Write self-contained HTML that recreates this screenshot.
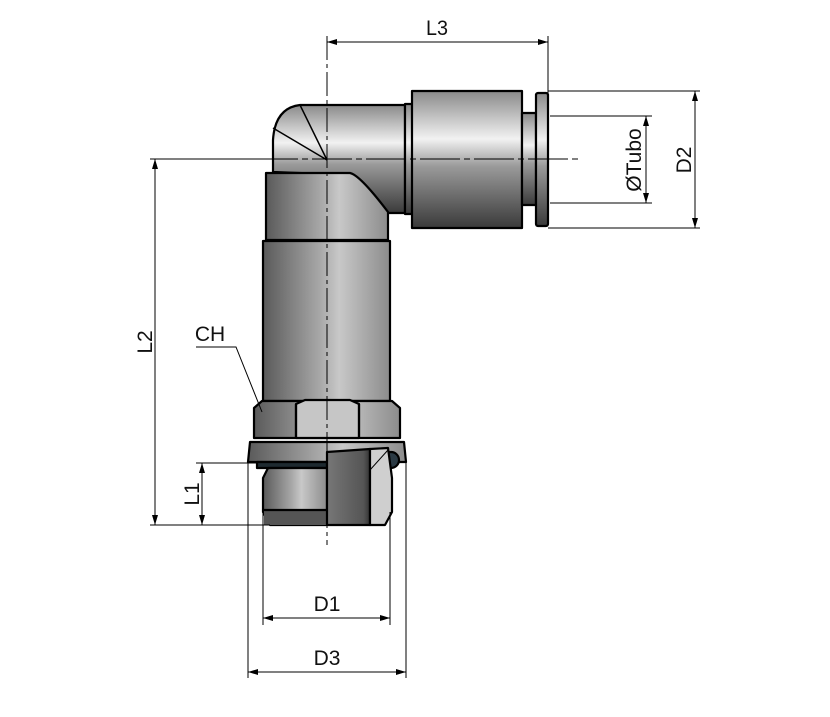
<!DOCTYPE html>
<html><head><meta charset="utf-8"><style>html,body{margin:0;padding:0;background:#fff}svg{display:block}text{font-family:"Liberation Sans Narrow","Liberation Sans",sans-serif;fill:#111}</style></head>
<body>
<svg width="830" height="717" viewBox="0 0 830 717" xmlns="http://www.w3.org/2000/svg">
<defs>
<linearGradient id="v" x1="0" y1="0" x2="1" y2="0">
<stop offset="0" stop-color="#5a5a5a"/><stop offset="0.45" stop-color="#a8a8a8"/><stop offset="0.6" stop-color="#c8c8c8"/><stop offset="1" stop-color="#8c8c8c"/></linearGradient>
<linearGradient id="h" x1="0" y1="0" x2="0" y2="1">
<stop offset="0" stop-color="#8a8a8a"/><stop offset="0.35" stop-color="#f2f2f2"/><stop offset="0.55" stop-color="#9a9a9a"/><stop offset="1" stop-color="#3a3a3a"/></linearGradient>
<linearGradient id="d" x1="0" y1="0" x2="1" y2="0">
<stop offset="0" stop-color="#777"/><stop offset="0.85" stop-color="#555"/><stop offset="1" stop-color="#333"/></linearGradient>
<marker id="a" viewBox="0 0 10 6" refX="10" refY="3" markerWidth="10" markerHeight="6" orient="auto-start-reverse" markerUnits="userSpaceOnUse"><path d="M0,0L10,3L0,6z" fill="#000"/></marker>
</defs>
<g stroke="#000" stroke-width="2.2" stroke-linejoin="round">
<path d="M300,105 L405,105 L405,213 L388,213 L350,175 L273,172 L273,140 Q275,108 300,105z" fill="url(#h)"/>
<path d="M300,105 L327,160 M273,128 L327,160" fill="none" stroke-width="1.5"/>
<rect x="405" y="104" width="8" height="110" fill="url(#h)"/>
<rect x="412" y="91" width="110" height="137" fill="url(#h)"/>
<rect x="522" y="113" width="14" height="92" fill="url(#h)"/>
<rect x="536" y="93" width="12" height="133" rx="2" fill="url(#h)"/>
<path d="M266,173 L350,173 Q360,175 388,212 L388,240 L266,240z" fill="url(#v)"/>
<rect x="263" y="241" width="127" height="160" fill="url(#v)"/>
<!-- hex -->
<path d="M254,408 L262,401 L392,401 L400,408 L400,438 L254,438z" fill="url(#v)"/>
<path d="M296,404 L305,400 L350,400 L359,404 L359,438 L296,438z" fill="#c6c6c6"/>
<path d="M296,404 L296,438 M359,404 L359,438" fill="none"/>
<!-- flange -->
<path d="M250,442 L404,442 L406,462 L248,462z" fill="url(#v)"/>
<rect x="257" y="462" width="70" height="6" fill="#1e2a30"/>
<circle cx="391" cy="460" r="8" fill="#2b3a44"/>
<!-- thread -->
<path d="M268,468 L327,468 L327,525 L270,525 L263,512 L263,478z" fill="url(#v)"/>
<rect x="264" y="510" width="63" height="15" fill="#555" stroke="none"/>
<line x1="264" y1="510" x2="327" y2="510"/>
<path d="M327,452 L370,449 L370,525 L327,525z" fill="url(#d)"/>
<path d="M370,449 L388,448 L392,478 L392,512 L385,525 L370,525z" fill="#cfcfcf"/>
<path d="M370,470 L388,450" fill="none" stroke-width="1"/>
</g>
<g stroke="#000" stroke-width="1" fill="none">
<line x1="327" y1="36" x2="327" y2="545" stroke-dasharray="24,4,4,4"/>
<line x1="150" y1="159" x2="578" y2="159" stroke-dasharray="40,4,6,4"/>
<line x1="327" y1="42" x2="548" y2="42" marker-start="url(#a)" marker-end="url(#a)"/>
<line x1="548" y1="36" x2="548" y2="93"/>
<line x1="548" y1="91" x2="700" y2="91"/><line x1="548" y1="228" x2="700" y2="228"/>
<line x1="695" y1="91" x2="695" y2="228" marker-start="url(#a)" marker-end="url(#a)"/>
<line x1="550" y1="116" x2="652" y2="116"/><line x1="550" y1="203" x2="652" y2="203"/>
<line x1="646" y1="116" x2="646" y2="203" marker-start="url(#a)" marker-end="url(#a)"/>
<line x1="150" y1="159" x2="273" y2="159"/>
<line x1="150" y1="525" x2="270" y2="525"/>
<line x1="155" y1="159" x2="155" y2="525" marker-start="url(#a)" marker-end="url(#a)"/>
<line x1="196" y1="463" x2="257" y2="463"/>
<line x1="202" y1="463" x2="202" y2="525" marker-start="url(#a)" marker-end="url(#a)"/>
<line x1="263" y1="512" x2="263" y2="625"/><line x1="390" y1="512" x2="390" y2="625"/>
<line x1="263" y1="618" x2="390" y2="618" marker-start="url(#a)" marker-end="url(#a)"/>
<line x1="248" y1="460" x2="248" y2="678"/><line x1="406" y1="460" x2="406" y2="678"/>
<line x1="248" y1="672" x2="406" y2="672" marker-start="url(#a)" marker-end="url(#a)"/>
<polyline points="196,347 236,347 262,412"/>
</g>
<g font-size="21">
<text x="437" y="35" text-anchor="middle" textLength="22" lengthAdjust="spacingAndGlyphs">L3</text>
<text x="327" y="611" text-anchor="middle">D1</text>
<text x="327" y="665" text-anchor="middle">D3</text>
<text x="210" y="341" text-anchor="middle">CH</text>
<text transform="translate(152,342) rotate(-90)" text-anchor="middle">L2</text>
<text transform="translate(199,494) rotate(-90)" text-anchor="middle">L1</text>
<text transform="translate(691,160) rotate(-90)" text-anchor="middle">D2</text>
<text transform="translate(641,160) rotate(-90)" text-anchor="middle">ØTubo</text>
</g>
</svg>
</body></html>
